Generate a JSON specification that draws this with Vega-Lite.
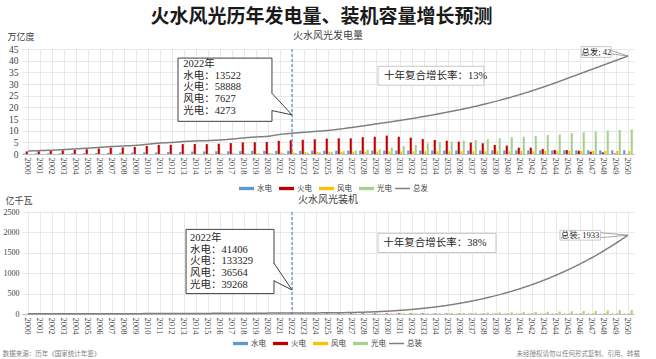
{
  "$schema": "https://vega.github.io/schema/vega-lite/v6.json",
  "padding": {"left": 2, "top": 8, "right": 8, "bottom": 0},
  "title": {"text": "火水风光历年发电量、装机容量增长预测", "fontSize": 19, "font": "Noto Sans CJK SC", "fontWeight": "bold", "color": "#1a1a1a", "anchor": "middle", "offset": 4},
  "spacing": 3,
  "resolve": {"scale": {"color": "independent", "strokeDash": "independent"}, "legend": {"color": "independent", "strokeDash": "independent"}},
  "datasets": {
    "gen": [
      {"year": 2000, "水电": 0.22, "火电": 1.11, "风电": 0.00, "光电": 0.00, "总发": 1.30},
      {"year": 2001, "水电": 0.28, "火电": 1.20, "风电": 0.00, "光电": 0.00, "总发": 1.45},
      {"year": 2002, "水电": 0.29, "火电": 1.35, "风电": 0.00, "光电": 0.00, "总发": 1.65},
      {"year": 2003, "水电": 0.28, "火电": 1.58, "风电": 0.00, "光电": 0.00, "总发": 1.90},
      {"year": 2004, "水电": 0.35, "火电": 1.80, "风电": 0.00, "光电": 0.00, "总发": 2.20},
      {"year": 2005, "水电": 0.40, "火电": 2.05, "风电": 0.00, "光电": 0.00, "总发": 2.50},
      {"year": 2006, "水电": 0.44, "火电": 2.37, "风电": 0.00, "光电": 0.00, "总发": 2.85},
      {"year": 2007, "水电": 0.49, "火电": 2.72, "风电": 0.01, "光电": 0.00, "总发": 3.20},
      {"year": 2008, "水电": 0.59, "火电": 2.79, "风电": 0.01, "光电": 0.00, "总发": 3.45},
      {"year": 2009, "水电": 0.62, "火电": 2.98, "风电": 0.03, "光电": 0.00, "总发": 3.70},
      {"year": 2010, "水电": 0.72, "火电": 3.42, "风电": 0.05, "光电": 0.00, "总发": 4.20},
      {"year": 2011, "水电": 0.70, "火电": 3.90, "风电": 0.07, "光电": 0.00, "总发": 4.70},
      {"year": 2012, "水电": 0.89, "火电": 3.93, "风电": 0.10, "光电": 0.00, "总发": 4.95},
      {"year": 2013, "水电": 0.92, "火电": 4.25, "风电": 0.14, "光电": 0.01, "总发": 5.35},
      {"year": 2014, "水电": 1.06, "火电": 4.27, "风电": 0.16, "光电": 0.02, "总发": 5.60},
      {"year": 2015, "水电": 1.11, "火电": 4.23, "风电": 0.19, "光电": 0.04, "总发": 5.75},
      {"year": 2016, "水电": 1.17, "火电": 4.39, "风电": 0.24, "光电": 0.07, "总发": 6.00},
      {"year": 2017, "水电": 1.19, "火电": 4.66, "风电": 0.30, "光电": 0.12, "总发": 6.40},
      {"year": 2018, "水电": 1.23, "火电": 4.98, "风电": 0.37, "光电": 0.18, "总发": 6.90},
      {"year": 2019, "水电": 1.30, "火电": 5.05, "风电": 0.41, "光电": 0.22, "总发": 7.30},
      {"year": 2020, "水电": 1.36, "火电": 5.17, "风电": 0.47, "光电": 0.26, "总发": 7.60},
      {"year": 2021, "水电": 1.34, "火电": 5.65, "风电": 0.66, "光电": 0.33, "总发": 8.40},
      {"year": 2022, "水电": 1.35, "火电": 5.89, "风电": 0.76, "光电": 0.43, "总发": 8.90},
      {"year": 2023, "水电": 1.28, "火电": 6.10, "风电": 0.86, "光电": 0.58, "总发": 9.30},
      {"year": 2024, "水电": 1.40, "火电": 6.30, "风电": 0.93, "光电": 0.75, "总发": 9.70},
      {"year": 2025, "水电": 1.42, "火电": 6.60, "风电": 0.98, "光电": 0.95, "总发": 10.10},
      {"year": 2026, "水电": 1.44, "火电": 6.70, "风电": 1.00, "光电": 1.20, "总发": 10.70},
      {"year": 2027, "水电": 1.45, "火电": 6.70, "风电": 1.02, "光电": 1.50, "总发": 11.40},
      {"year": 2028, "水电": 1.46, "火电": 7.20, "风电": 1.04, "光电": 1.80, "总发": 12.10},
      {"year": 2029, "水电": 1.47, "火电": 7.40, "风电": 1.06, "光电": 2.00, "总发": 12.90},
      {"year": 2030, "水电": 1.48, "火电": 7.90, "风电": 1.08, "光电": 2.80, "总发": 13.60},
      {"year": 2031, "水电": 1.49, "火电": 7.40, "风电": 1.10, "光电": 3.40, "总发": 14.40},
      {"year": 2032, "水电": 1.50, "火电": 7.00, "风电": 1.12, "光电": 3.90, "总发": 15.20},
      {"year": 2033, "水电": 1.50, "火电": 6.40, "风电": 1.14, "光电": 4.60, "总发": 16.10},
      {"year": 2034, "水电": 1.51, "火电": 6.00, "风电": 1.15, "光电": 5.00, "总发": 17.00},
      {"year": 2035, "水电": 1.52, "火电": 5.70, "风电": 1.16, "光电": 5.30, "总发": 18.00},
      {"year": 2036, "水电": 1.52, "火电": 5.30, "风电": 1.17, "光电": 5.70, "总发": 19.00},
      {"year": 2037, "水电": 1.53, "火电": 4.90, "风电": 1.18, "光电": 6.00, "总发": 20.10},
      {"year": 2038, "水电": 1.53, "火电": 4.60, "风电": 1.19, "光电": 6.30, "总发": 21.30},
      {"year": 2039, "水电": 1.54, "火电": 3.90, "风电": 1.20, "光电": 6.70, "总发": 22.60},
      {"year": 2040, "水电": 1.54, "火电": 3.60, "风电": 1.21, "光电": 7.20, "总发": 24.00},
      {"year": 2041, "水电": 1.55, "火电": 2.70, "风电": 1.22, "光电": 7.40, "总发": 25.50},
      {"year": 2042, "水电": 1.55, "火电": 2.70, "风电": 1.23, "光电": 7.70, "总发": 27.10},
      {"year": 2043, "水电": 1.56, "火电": 2.10, "风电": 1.24, "光电": 8.10, "总发": 28.80},
      {"year": 2044, "水电": 1.56, "火电": 1.70, "风电": 1.25, "光电": 8.40, "总发": 30.60},
      {"year": 2045, "水电": 1.57, "火电": 1.70, "风电": 1.26, "光电": 8.90, "总发": 32.50},
      {"year": 2046, "水电": 1.57, "火电": 1.40, "风电": 1.27, "光电": 9.30, "总发": 34.40},
      {"year": 2047, "水电": 1.58, "火电": 1.00, "风电": 1.28, "光电": 9.70, "总发": 36.30},
      {"year": 2048, "水电": 1.58, "火电": 0.70, "风电": 1.29, "光电": 10.00, "总发": 38.20},
      {"year": 2049, "水电": 1.59, "火电": 0.20, "风电": 1.30, "光电": 10.30, "总发": 40.10},
      {"year": 2050, "水电": 1.60, "火电": 0.05, "风电": 1.30, "光电": 10.60, "总发": 42.00}
    ],
    "cap": [
      {"year": 2000, "水电": 0.79, "火电": 2.37, "风电": 0.00, "光电": 0.00, "总装": 3.2},
      {"year": 2001, "水电": 0.83, "火电": 2.53, "风电": 0.00, "光电": 0.00, "总装": 3.4},
      {"year": 2002, "水电": 0.86, "火电": 2.66, "风电": 0.00, "光电": 0.00, "总装": 3.6},
      {"year": 2003, "水电": 0.95, "火电": 2.90, "风电": 0.01, "光电": 0.00, "总装": 3.9},
      {"year": 2004, "水电": 1.05, "火电": 3.30, "风电": 0.01, "光电": 0.00, "总装": 4.4},
      {"year": 2005, "水电": 1.17, "火电": 3.91, "风电": 0.01, "光电": 0.00, "总装": 5.1},
      {"year": 2006, "水电": 1.30, "火电": 4.84, "风电": 0.03, "光电": 0.00, "总装": 6.2},
      {"year": 2007, "水电": 1.45, "火电": 5.55, "风电": 0.04, "光电": 0.00, "总装": 7.0},
      {"year": 2008, "水电": 1.72, "火电": 6.03, "风电": 0.08, "光电": 0.00, "总装": 7.8},
      {"year": 2009, "水电": 1.97, "火电": 6.52, "风电": 0.16, "光电": 0.00, "总装": 8.7},
      {"year": 2010, "水电": 2.16, "火电": 7.10, "风电": 0.30, "光电": 0.00, "总装": 9.6},
      {"year": 2011, "水电": 2.33, "火电": 7.65, "风电": 0.46, "光电": 0.02, "总装": 10.5},
      {"year": 2012, "水电": 2.49, "火电": 8.19, "风电": 0.61, "光电": 0.03, "总装": 11.3},
      {"year": 2013, "水电": 2.80, "火电": 8.70, "风电": 0.77, "光电": 0.16, "总装": 12.4},
      {"year": 2014, "水电": 3.05, "火电": 9.32, "风电": 0.96, "光电": 0.25, "总装": 13.6},
      {"year": 2015, "水电": 3.20, "火电": 10.06, "风电": 1.31, "光电": 0.43, "总装": 15.0},
      {"year": 2016, "水电": 3.32, "火电": 10.61, "风电": 1.48, "光电": 0.77, "总装": 16.2},
      {"year": 2017, "水电": 3.44, "火电": 11.10, "风电": 1.64, "光电": 1.30, "总装": 17.5},
      {"year": 2018, "水电": 3.52, "火电": 11.44, "风电": 1.84, "光电": 1.75, "总装": 18.6},
      {"year": 2019, "水电": 3.58, "火电": 11.91, "风电": 2.10, "光电": 2.04, "总装": 19.6},
      {"year": 2020, "水电": 3.70, "火电": 12.45, "风电": 2.82, "光电": 2.53, "总装": 21.5},
      {"year": 2021, "水电": 3.91, "火电": 12.97, "风电": 3.28, "光电": 3.07, "总装": 23.2},
      {"year": 2022, "水电": 4.14, "火电": 13.33, "风电": 3.66, "光电": 3.93, "总装": 25.1},
      {"year": 2023, "水电": 4.2, "火电": 13.9, "风电": 4.2, "光电": 5.0, "总装": 26},
      {"year": 2024, "水电": 4.3, "火电": 14.4, "风电": 4.8, "光电": 6.2, "总装": 27},
      {"year": 2025, "水电": 4.4, "火电": 14.8, "风电": 5.4, "光电": 7.4, "总装": 29},
      {"year": 2026, "水电": 4.5, "火电": 15.0, "风电": 6.0, "光电": 8.6, "总装": 32},
      {"year": 2027, "水电": 4.6, "火电": 15.2, "风电": 6.6, "光电": 9.8, "总装": 37},
      {"year": 2028, "水电": 4.7, "火电": 15.3, "风电": 7.2, "光电": 11.0, "总装": 45},
      {"year": 2029, "水电": 4.8, "火电": 15.3, "风电": 7.8, "光电": 12.2, "总装": 56},
      {"year": 2030, "水电": 4.9, "火电": 15.2, "风电": 8.4, "光电": 13.5, "总装": 70},
      {"year": 2031, "水电": 5.0, "火电": 14.6, "风电": 9.0, "光电": 15, "总装": 89},
      {"year": 2032, "水电": 5.1, "火电": 13.8, "风电": 9.6, "光电": 17, "总装": 112},
      {"year": 2033, "水电": 5.2, "火电": 12.8, "风电": 10.2, "光电": 19, "总装": 141},
      {"year": 2034, "水电": 5.3, "火电": 11.6, "风电": 10.8, "光电": 21, "总装": 175},
      {"year": 2035, "水电": 5.4, "火电": 10.4, "风电": 11.4, "光电": 24, "总装": 216},
      {"year": 2036, "水电": 5.5, "火电": 9.2, "风电": 12.0, "光电": 27, "总装": 264},
      {"year": 2037, "水电": 5.6, "火电": 8.0, "风电": 12.6, "光电": 30, "总装": 318},
      {"year": 2038, "水电": 5.7, "火电": 7.0, "风电": 13.2, "光电": 34, "总装": 381},
      {"year": 2039, "水电": 5.8, "火电": 6.0, "风电": 13.8, "光电": 38, "总装": 452},
      {"year": 2040, "水电": 5.9, "火电": 5.2, "风电": 14.4, "光电": 42, "总装": 532},
      {"year": 2041, "水电": 6.0, "火电": 4.5, "风电": 15.0, "光电": 46, "总装": 621},
      {"year": 2042, "水电": 6.1, "火电": 3.8, "风电": 15.6, "光电": 51, "总装": 720},
      {"year": 2043, "水电": 6.2, "火电": 3.2, "风电": 16.2, "光电": 56, "总装": 830},
      {"year": 2044, "水电": 6.3, "火电": 2.7, "风电": 16.8, "光电": 61, "总装": 951},
      {"year": 2045, "水电": 6.4, "火电": 2.2, "风电": 17.4, "光电": 67, "总装": 1083},
      {"year": 2046, "水电": 6.5, "火电": 1.8, "风电": 18.0, "光电": 73, "总装": 1227},
      {"year": 2047, "水电": 6.6, "火电": 1.5, "风电": 18.6, "光电": 79, "总装": 1383},
      {"year": 2048, "水电": 6.7, "火电": 1.2, "风电": 19.2, "光电": 86, "总装": 1553},
      {"year": 2049, "水电": 6.8, "火电": 1.0, "风电": 19.8, "光电": 93, "总装": 1736},
      {"year": 2050, "水电": 6.9, "火电": 0.8, "风电": 20.4, "光电": 100, "总装": 1933}
    ]
  },
  "vconcat": [
    {
      "title": {"text": "火水风光发电量", "fontSize": 10, "fontWeight": "normal", "color": "#404040", "font": "Noto Sans CJK SC", "offset": -9},
      "width": 612,
      "height": 105,
      "resolve": {"scale": {"x": "independent"}, "axis": {"x": "independent", "y": "independent"}},
      "layer": [
        {
          "data": {"name": "gen"},
          "resolve": {"axis": {"y": "independent"}},
          "layer": [
            {
              "transform": [{"fold": ["水电", "火电", "风电", "光电"], "as": ["类型", "数值"]}],
              "mark": {"type": "bar"},
              "encoding": {
                "x": {"field": "year", "type": "ordinal", "scale": {"paddingInner": 0.2, "paddingOuter": 0.1},
                      "axis": {"title": null, "labelAngle": 90, "labelFontSize": 8.5, "labelFont": "Liberation Serif", "grid": true, "ticks": false, "labelPadding": 3, "domainColor": "#bfbfbf"}},
                "xOffset": {"field": "类型", "type": "nominal", "sort": ["水电", "火电", "风电", "光电"], "scale": {"paddingInner": 0.15}},
                "y": {"field": "数值", "type": "quantitative", "scale": {"domain": [0, 45], "nice": false},
                      "axis": {"title": "万亿度", "values": [0, 5, 10, 15, 20, 25, 30, 35, 40, 45], "labelOverlap": false, "titleAngle": 0, "titleAlign": "left", "titleBaseline": "middle", "titleX": -15, "titleY": -13, "titleFontSize": 9, "titleFontWeight": "normal", "titleColor": "#404040", "labelFontSize": 9.5, "labelFont": "Liberation Serif", "ticks": false, "domain": false, "labelPadding": 4, "grid": true}},
                "color": {"field": "类型", "type": "nominal",
                          "scale": {"domain": ["水电", "火电", "风电", "光电"], "range": ["#5B9BD5", "#C00000", "#FFC000", "#A9D18E"]},
                          "legend": {"orient": "none", "legendX": 216, "legendY": 131, "direction": "horizontal", "title": null, "labelFontSize": 7.5, "labelFont": "Noto Sans CJK SC", "labelColor": "#404040", "symbolType": "M-1,-0.22H1V0.22H-1Z", "symbolSize": 225, "columnPadding": 6, "labelOffset": 2}}
              }
            },
            {
              "mark": {"type": "line", "strokeWidth": 1.5, "interpolate": "monotone", "color": "#7F7F7F"},
              "encoding": {
                "x": {"field": "year", "type": "ordinal"},
                "y": {"field": "总发", "type": "quantitative", "axis": null},
                "strokeDash": {"datum": "总发", "type": "nominal", "scale": {"range": [[1, 0]]},
                               "legend": {"orient": "none", "legendX": 372, "legendY": 131, "title": null, "labelFontSize": 7.5, "labelFont": "Noto Sans CJK SC", "labelColor": "#404040", "symbolType": "stroke", "symbolSize": 225, "symbolStrokeColor": "#7F7F7F", "symbolStrokeWidth": 1.5, "labelOffset": 2}}
              }
            }
          ]
        },
        {
          "data": {"values": [{}]},
          "layer": [
            {"mark": {"type": "rule", "color": "#4472C4", "strokeDash": [3, 2], "strokeWidth": 1},
             "encoding": {"x": {"datum": 2022, "type": "quantitative", "scale": {"domain": [1999.5, 2050.5], "nice": false, "zero": false}, "axis": null}}},
            {"mark": {"type": "rect", "fill": "white", "stroke": "#404040", "strokeWidth": 1},
             "encoding": {"x": {"datum": 2012.5, "type": "quantitative", "axis": null}, "x2": {"datum": 2020.33}, "y": {"datum": 41.1, "type": "quantitative", "axis": null}, "y2": {"datum": 14.0}}},
            {"mark": {"type": "rule", "color": "white", "strokeWidth": 2},
             "encoding": {"x": {"datum": 2020.33, "type": "quantitative", "axis": null}, "y": {"datum": 18.7, "type": "quantitative", "axis": null}, "y2": {"datum": 25.9}}},
            {"mark": {"type": "rule", "color": "#404040", "strokeWidth": 1},
             "encoding": {"x": {"datum": 2020.33, "type": "quantitative", "axis": null}, "x2": {"datum": 2022}, "y": {"datum": 26.0, "type": "quantitative", "axis": null}, "y2": {"datum": 16.8}}},
            {"mark": {"type": "rule", "color": "#404040", "strokeWidth": 1},
             "encoding": {"x": {"datum": 2020.33, "type": "quantitative", "axis": null}, "x2": {"datum": 2022}, "y": {"datum": 18.6, "type": "quantitative", "axis": null}, "y2": {"datum": 16.8}}},
            {"mark": {"type": "text", "align": "left", "baseline": "top", "fontSize": 10.5, "lineHeight": 11.6, "font": "Liberation Serif, Noto Sans CJK SC", "color": "#262626"},
             "encoding": {"x": {"datum": 2012.94, "type": "quantitative", "axis": null}, "y": {"datum": 40.6, "type": "quantitative", "axis": null},
                          "text": {"value": ["2022年", "水电：13522", "火电：58888", "风电：7627", "光电：4273"]}}},
            {"mark": {"type": "rect", "fill": "white", "stroke": "#c8c8c8", "strokeWidth": 1},
             "encoding": {"x": {"datum": 2029.17, "type": "quantitative", "axis": null}, "x2": {"datum": 2038.0}, "y": {"datum": 37.6, "type": "quantitative", "axis": null}, "y2": {"datum": 29.5}}},
            {"mark": {"type": "text", "align": "left", "baseline": "middle", "fontSize": 10.5, "font": "Liberation Serif, Noto Sans CJK SC", "color": "#262626"},
             "encoding": {"x": {"datum": 2029.67, "type": "quantitative", "axis": null}, "y": {"datum": 33.6, "type": "quantitative", "axis": null}, "text": {"value": "十年复合增长率：13%"}}},
            {"mark": {"type": "rule", "color": "#909090", "strokeWidth": 0.8},
             "encoding": {"x": {"datum": 2048.6, "type": "quantitative", "axis": null}, "x2": {"datum": 2050}, "y": {"datum": 44.4, "type": "quantitative", "axis": null}, "y2": {"datum": 42.0}}},
            {"mark": {"type": "rule", "color": "#909090", "strokeWidth": 0.8},
             "encoding": {"x": {"datum": 2048.6, "type": "quantitative", "axis": null}, "x2": {"datum": 2050}, "y": {"datum": 42.9, "type": "quantitative", "axis": null}, "y2": {"datum": 42.0}}},
            {"mark": {"type": "rect", "fill": "white", "stroke": "#c8c8c8", "strokeWidth": 1},
             "encoding": {"x": {"datum": 2046.1, "type": "quantitative", "axis": null}, "x2": {"datum": 2048.6}, "y": {"datum": 46.0, "type": "quantitative", "axis": null}, "y2": {"datum": 41.4}}},
            {"mark": {"type": "text", "align": "center", "baseline": "middle", "fontSize": 8.5, "font": "Liberation Serif, Noto Sans CJK SC", "color": "#262626"},
             "encoding": {"x": {"datum": 2047.35, "type": "quantitative", "axis": null}, "y": {"datum": 43.7, "type": "quantitative", "axis": null}, "text": {"value": "总发; 42"}}}
          ]
        }
      ]
    },
    {
      "title": {"text": "火水风光装机", "fontSize": 10, "fontWeight": "normal", "color": "#404040", "font": "Noto Sans CJK SC", "offset": -9},
      "width": 612,
      "height": 102,
      "resolve": {"scale": {"x": "independent"}, "axis": {"x": "independent", "y": "independent"}},
      "layer": [
        {
          "data": {"name": "cap"},
          "resolve": {"axis": {"y": "independent"}},
          "layer": [
            {
              "transform": [{"fold": ["水电", "火电", "风电", "光电"], "as": ["类型", "数值"]}],
              "mark": {"type": "bar"},
              "encoding": {
                "x": {"field": "year", "type": "ordinal", "scale": {"paddingInner": 0.2, "paddingOuter": 0.1},
                      "axis": {"title": null, "labelAngle": 90, "labelFontSize": 8.5, "labelFont": "Liberation Serif", "grid": true, "ticks": false, "labelPadding": 3, "domainColor": "#bfbfbf"}},
                "xOffset": {"field": "类型", "type": "nominal", "sort": ["水电", "火电", "风电", "光电"], "scale": {"paddingInner": 0.15}},
                "y": {"field": "数值", "type": "quantitative", "scale": {"domain": [0, 2500], "nice": false},
                      "axis": {"title": "亿千瓦", "values": [0, 500, 1000, 1500, 2000, 2500], "labelOverlap": false, "format": "d", "titleAngle": 0, "titleAlign": "left", "titleBaseline": "middle", "titleX": -17, "titleY": -12, "titleFontSize": 9, "titleFontWeight": "normal", "titleColor": "#404040", "labelFontSize": 8, "labelFont": "Liberation Serif", "ticks": false, "domain": false, "labelPadding": 3, "grid": true}},
                "color": {"field": "类型", "type": "nominal",
                          "scale": {"domain": ["水电", "火电", "风电", "光电"], "range": ["#5B9BD5", "#C00000", "#FFC000", "#A9D18E"]},
                          "legend": {"orient": "none", "legendX": 210, "legendY": 123, "direction": "horizontal", "title": null, "labelFontSize": 7.5, "labelFont": "Noto Sans CJK SC", "labelColor": "#404040", "symbolType": "M-1,-0.22H1V0.22H-1Z", "symbolSize": 225, "columnPadding": 6, "labelOffset": 2}}
              }
            },
            {
              "mark": {"type": "line", "strokeWidth": 1.5, "interpolate": "monotone", "color": "#7F7F7F"},
              "encoding": {
                "x": {"field": "year", "type": "ordinal"},
                "y": {"field": "总装", "type": "quantitative", "axis": null},
                "strokeDash": {"datum": "总装", "type": "nominal", "scale": {"range": [[1, 0]]},
                               "legend": {"orient": "none", "legendX": 366, "legendY": 123, "title": null, "labelFontSize": 7.5, "labelFont": "Noto Sans CJK SC", "labelColor": "#404040", "symbolType": "stroke", "symbolSize": 225, "symbolStrokeColor": "#7F7F7F", "symbolStrokeWidth": 1.5, "labelOffset": 2}}
              }
            }
          ]
        },
        {
          "data": {"values": [{}]},
          "layer": [
            {"mark": {"type": "rule", "color": "#4472C4", "strokeDash": [3, 2], "strokeWidth": 1},
             "encoding": {"x": {"datum": 2022, "type": "quantitative", "scale": {"domain": [1999.5, 2050.5], "nice": false, "zero": false}, "axis": null}}},
            {"mark": {"type": "rect", "fill": "white", "stroke": "#404040", "strokeWidth": 1},
             "encoding": {"x": {"datum": 2013.17, "type": "quantitative", "axis": null}, "x2": {"datum": 2020.5}, "y": {"datum": 2074, "type": "quantitative", "axis": null}, "y2": {"datum": 500}}},
            {"mark": {"type": "rule", "color": "white", "strokeWidth": 2},
             "encoding": {"x": {"datum": 2020.5, "type": "quantitative", "axis": null}, "y": {"datum": 830, "type": "quantitative", "axis": null}, "y2": {"datum": 1225}}},
            {"mark": {"type": "rule", "color": "#404040", "strokeWidth": 1},
             "encoding": {"x": {"datum": 2020.5, "type": "quantitative", "axis": null}, "x2": {"datum": 2022}, "y": {"datum": 1245, "type": "quantitative", "axis": null}, "y2": {"datum": 590}}},
            {"mark": {"type": "rule", "color": "#404040", "strokeWidth": 1},
             "encoding": {"x": {"datum": 2020.5, "type": "quantitative", "axis": null}, "x2": {"datum": 2022}, "y": {"datum": 812, "type": "quantitative", "axis": null}, "y2": {"datum": 590}}},
            {"mark": {"type": "text", "align": "left", "baseline": "top", "fontSize": 10.5, "lineHeight": 11.8, "font": "Liberation Serif, Noto Sans CJK SC", "color": "#262626"},
             "encoding": {"x": {"datum": 2013.5, "type": "quantitative", "axis": null}, "y": {"datum": 1988, "type": "quantitative", "axis": null},
                          "text": {"value": ["2022年", "水电：41406", "火电：133329", "风电：36564", "光电：39268"]}}},
            {"mark": {"type": "rect", "fill": "white", "stroke": "#c8c8c8", "strokeWidth": 1},
             "encoding": {"x": {"datum": 2029.17, "type": "quantitative", "axis": null}, "x2": {"datum": 2039.0}, "y": {"datum": 1976, "type": "quantitative", "axis": null}, "y2": {"datum": 1508}}},
            {"mark": {"type": "text", "align": "left", "baseline": "middle", "fontSize": 10.5, "font": "Liberation Serif, Noto Sans CJK SC", "color": "#262626"},
             "encoding": {"x": {"datum": 2029.6, "type": "quantitative", "axis": null}, "y": {"datum": 1737, "type": "quantitative", "axis": null}, "text": {"value": "十年复合增长率：38%"}}},
            {"mark": {"type": "rule", "color": "#909090", "strokeWidth": 0.8},
             "encoding": {"x": {"datum": 2047.7, "type": "quantitative", "axis": null}, "x2": {"datum": 2050}, "y": {"datum": 1990, "type": "quantitative", "axis": null}, "y2": {"datum": 1933}}},
            {"mark": {"type": "rule", "color": "#909090", "strokeWidth": 0.8},
             "encoding": {"x": {"datum": 2047.7, "type": "quantitative", "axis": null}, "x2": {"datum": 2050}, "y": {"datum": 1870, "type": "quantitative", "axis": null}, "y2": {"datum": 1933}}},
            {"mark": {"type": "rect", "fill": "white", "stroke": "#c8c8c8", "strokeWidth": 1},
             "encoding": {"x": {"datum": 2044.33, "type": "quantitative", "axis": null}, "x2": {"datum": 2047.7}, "y": {"datum": 2050, "type": "quantitative", "axis": null}, "y2": {"datum": 1811}}},
            {"mark": {"type": "text", "align": "center", "baseline": "middle", "fontSize": 8.5, "font": "Liberation Serif, Noto Sans CJK SC", "color": "#262626"},
             "encoding": {"x": {"datum": 2046.0, "type": "quantitative", "axis": null}, "y": {"datum": 1927, "type": "quantitative", "axis": null}, "text": {"value": "总装; 1933"}}}
          ]
        }
      ]
    },
    {
      "width": 612,
      "height": 1,
      "data": {"values": [{}]},
      "layer": [
        {"mark": {"type": "text", "align": "left", "baseline": "middle", "fontSize": 6.5, "font": "Noto Sans CJK SC", "color": "#7f7f7f"},
         "encoding": {"x": {"datum": 1997.9, "type": "quantitative", "scale": {"domain": [1999.5, 2050.5], "nice": false, "zero": false}, "axis": null}, "text": {"value": "数据来源：历年《国家统计年鉴》"}}},
        {"mark": {"type": "text", "align": "right", "baseline": "middle", "fontSize": 6.5, "font": "Noto Sans CJK SC", "color": "#7f7f7f"},
         "encoding": {"x": {"datum": 2051.0, "type": "quantitative", "axis": null}, "text": {"value": "未经授权请勿以任何形式复制、引用、转载"}}}
      ]
    }
  ],
  "config": {
    "view": {"stroke": null},
    "font": "Noto Sans CJK SC",
    "axis": {"gridColor": "#e3e3e3", "gridWidth": 0.8, "labelColor": "#404040", "domainColor": "#bfbfbf"},
    "axisY": {"labelOverlap": false},
    "bar": {"stroke": null}
  }
}
